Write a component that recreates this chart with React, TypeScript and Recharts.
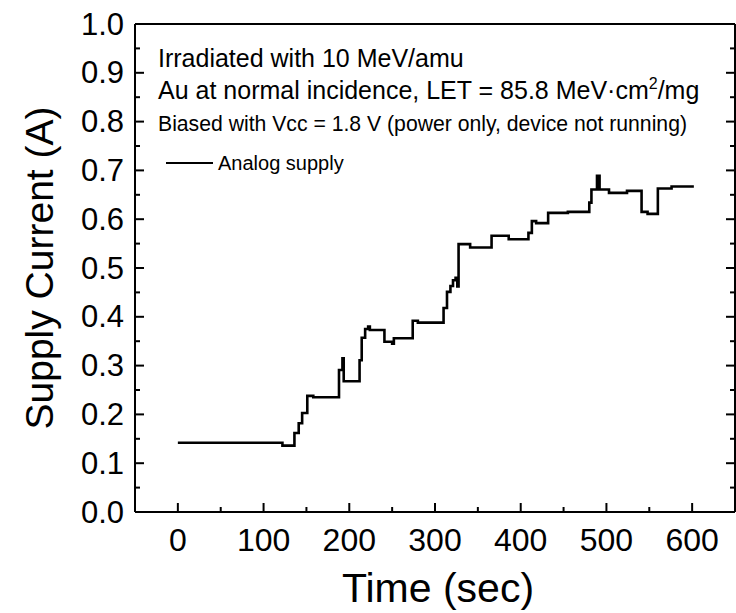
import { Legend, Line, LineChart, XAxis, YAxis } from "recharts";

// time (sec) where each step starts, and supply current (A) held from there
const times = [
  0, 122, 136, 141, 145, 151, 158, 188, 192, 193.5, 212, 214.5, 218.5, 222, 224,
  241, 250, 252, 274, 280, 310, 314, 318, 321, 324, 326, 327.5, 341, 366, 386,
  409, 413, 418, 432, 455, 480, 482.5, 489, 492, 503, 524, 541, 548, 560, 576, 602,
];
const current = [
  0.142, 0.136, 0.162, 0.182, 0.203, 0.238, 0.235, 0.291, 0.315, 0.268, 0.311,
  0.357, 0.375, 0.38, 0.373, 0.349, 0.345, 0.356, 0.392, 0.388, 0.418, 0.451,
  0.463, 0.475, 0.48, 0.462, 0.549, 0.542, 0.566, 0.559, 0.572, 0.596, 0.592,
  0.613, 0.615, 0.634, 0.661, 0.689, 0.661, 0.654, 0.658, 0.615, 0.611, 0.663,
  0.667, 0.667,
];

const xTicks = [0, 50, 100, 150, 200, 250, 300, 350, 400, 450, 500, 550, 600];
const xLabels = [0, 100, 200, 300, 400, 500, 600];
const yTicks = [
  0, 0.05, 0.1, 0.15, 0.2, 0.25, 0.3, 0.35, 0.4, 0.45, 0.5, 0.55, 0.6, 0.65,
  0.7, 0.75, 0.8, 0.85, 0.9, 0.95, 1.0,
];
const yLabels = [0, 0.1, 0.2, 0.3, 0.4, 0.5, 0.6, 0.7, 0.8, 0.9, 1.0];

const data = times.map((t, i) => ({ t, current: current[i] }));

const isXMajor = (v: number) => xLabels.includes(v);
const isYMajor = (v: number) => yLabels.some((l) => Math.abs(l - v) < 1e-9);

const BottomTick = ({ x, y, payload }: any) => {
  const major = isXMajor(payload.value);
  return (
    <g>
      <line x1={x} x2={x} y1={y} y2={y - (major ? 9 : 5)} stroke="#000" strokeWidth={2} />
      {major && (
        <text x={x} y={y + 39} textAnchor="middle" fontSize={32} fill="#000">
          {payload.value}
        </text>
      )}
    </g>
  );
};

const TopTick = ({ x, y, payload }: any) => (
  <line x1={x} x2={x} y1={y} y2={y + (isXMajor(payload.value) ? 9 : 5)} stroke="#000" strokeWidth={2} />
);

const LeftTick = ({ x, y, payload }: any) => {
  const major = isYMajor(payload.value);
  return (
    <g>
      <line x1={x} x2={x + (major ? 9 : 5)} y1={y} y2={y} stroke="#000" strokeWidth={2} />
      {major && (
        <text x={x - 11} y={y} textAnchor="end" dominantBaseline="central" fontSize={31} fill="#000">
          {payload.value.toFixed(1)}
        </text>
      )}
    </g>
  );
};

const RightTick = ({ x, y, payload }: any) => (
  <line x1={x} x2={x - (isYMajor(payload.value) ? 9 : 5)} y1={y} y2={y} stroke="#000" strokeWidth={2} />
);

const axisLine = { stroke: "#000", strokeWidth: 2 };

export default function App() {
  return (
    <div
      style={{
        position: "absolute",
        left: 0,
        top: 0,
        width: 736,
        height: 613,
        background: "#fff",
        fontFamily: "'Liberation Sans', Arial, sans-serif",
      }}
    >
      <LineChart width={736} height={613} data={data} margin={{ top: 23, right: 0, bottom: 0, left: 0 }}>
        <XAxis
          xAxisId="bottom"
          dataKey="t"
          type="number"
          domain={[-50, 650]}
          ticks={xTicks}
          interval={0}
          height={101}
          tickSize={0}
          tickMargin={0}
          tickLine={false}
          axisLine={axisLine}
          tick={BottomTick}
          label={{
            content: () => (
              <text x={438} y={602} textAnchor="middle" fontSize={41} fill="#000">
                Time (sec)
              </text>
            ),
          }}
        />
        <XAxis
          xAxisId="top"
          orientation="top"
          type="number"
          domain={[-50, 650]}
          allowDataOverflow
          ticks={xTicks}
          interval={0}
          height={1}
          tickSize={0}
          tickMargin={0}
          tickLine={false}
          axisLine={axisLine}
          tick={TopTick}
        />
        <YAxis
          yAxisId="left"
          type="number"
          domain={[0, 1]}
          ticks={yTicks}
          interval={0}
          width={135}
          tickSize={0}
          tickMargin={0}
          tickLine={false}
          axisLine={axisLine}
          tick={LeftTick}
          label={{
            content: () => (
              <text
                transform="translate(39,268) rotate(-90)"
                textAnchor="middle"
                dominantBaseline="central"
                fontSize={39}
                fill="#000"
              >
                Supply Current (A)
              </text>
            ),
          }}
        />
        <YAxis
          yAxisId="right"
          orientation="right"
          type="number"
          domain={[0, 1]}
          allowDataOverflow
          ticks={yTicks}
          interval={0}
          width={1}
          tickSize={0}
          tickMargin={0}
          tickLine={false}
          axisLine={axisLine}
          tick={RightTick}
        />
        <Legend
          layout="horizontal"
          verticalAlign="middle"
          align="center"
          wrapperStyle={{ left: 166, top: 152, width: "auto" }}
          content={() => (
            <div style={{ display: "flex", alignItems: "center", height: 22, fontSize: 20, color: "#000" }}>
              <svg width={47} height={4}>
                <line x1={0} x2={47} y1={2} y2={2} stroke="#000" strokeWidth={2} />
              </svg>
              <span style={{ marginLeft: 5 }}>Analog supply</span>
            </div>
          )}
        />
        <Line
          xAxisId="bottom"
          yAxisId="left"
          type="stepAfter"
          dataKey="current"
          name="Analog supply"
          stroke="#000"
          strokeWidth={2.6}
          dot={false}
          isAnimationActive={false}
        />
      </LineChart>
      <svg
        width={736}
        height={613}
        style={{ position: "absolute", left: 0, top: 0, pointerEvents: "none" }}
      >
        <text x={158} y={67} fontSize={25} fill="#000">
          Irradiated with 10 MeV/amu
        </text>
        <text x={158} y={99} fontSize={25} fill="#000">
          Au at normal incidence, LET = 85.8 MeV·cm
          <tspan dy={-10} fontSize={16}>2</tspan>
          <tspan dy={10}>/mg</tspan>
        </text>
        <text x={158} y={131} fontSize={21.2} fill="#000">
          Biased with Vcc = 1.8 V (power only, device not running)
        </text>
      </svg>
    </div>
  );
}
